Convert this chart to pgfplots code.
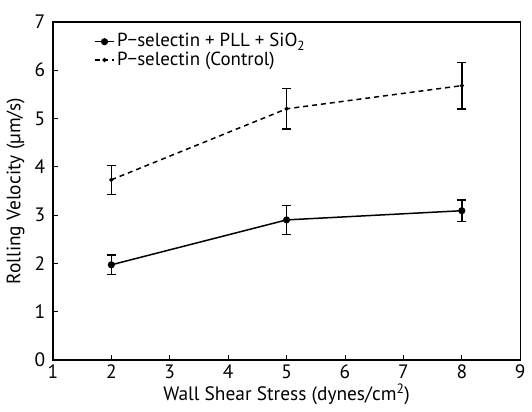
\documentclass[border=0pt]{standalone}
\usepackage{pgfplots}
\pgfplotsset{compat=1.18}
\usepackage{fontspec}
\setmainfont{PT Sans}
\begin{document}
\fontsize{19.5}{23}\selectfont
\begin{tikzpicture}
\begin{axis}[
  width=470pt, height=340pt, scale only axis,
  xmin=1, xmax=9, ymin=0, ymax=7,
  xtick={1,...,9}, ytick={0,...,7},
  tick align=inside, xtick pos=bottom, ytick pos=left,
  major tick length=5pt,
  tick style={line width=1pt, black},
  axis line style={line width=1.3pt},
  /pgf/number format/assume math mode=true,
  ticklabel style={font=\fontsize{19.5}{23}\selectfont},
  label style={font=\fontsize{19.5}{23}\selectfont},
  xticklabel style={yshift=2pt},
  yticklabel style={xshift=-1pt},
  xlabel={Wall Shear Stress (dynes/cm\textsuperscript{2})},
  ylabel={Rolling Velocity (µm/s)},
  xlabel style={yshift=8pt},
  ylabel style={yshift=-3pt},
  legend style={draw=none, fill=none, at={(0.085,0.975)}, anchor=north west,
    font=\fontsize{19}{21}\selectfont, row sep=-2pt, inner sep=1pt},
  legend cell align=left,
  legend image code/.code={\draw[mark repeat=2,mark phase=2,#1]
    plot coordinates {(0pt,0pt)(10pt,0pt)(20pt,0pt)};},
]
% P-selectin + PLL + SiO2
\addplot[black, line width=1.5pt, mark=*, mark size=2.8pt,
  error bars/.cd, y dir=both, y explicit,
  error bar style={line width=1.6pt, solid},
  error mark options={rotate=90, line width=1.6pt, mark size=4.5pt, solid}]
  coordinates {
    (2,1.97) +- (0,0.20)
    (5,2.90) +- (0,0.30)
    (8,3.09) +- (0,0.22)
  };
\addlegendentry{P\textminus selectin + PLL + SiO\textsubscript{2}}
% P-selectin control
\addplot[black, line width=1.5pt, dash pattern=on 5pt off 4pt,
  mark=*, mark size=1.3pt, mark options={solid},
  error bars/.cd, y dir=both, y explicit,
  error bar style={line width=1.6pt, solid},
  error mark options={rotate=90, line width=1.6pt, mark size=4.5pt, solid}]
  coordinates {
    (2,3.73) +- (0,0.30)
    (5,5.20) +- (0,0.42)
    (8,5.68) +- (0,0.48)
  };
\addlegendentry{P\textminus selectin (Control)}
\end{axis}
% white space above the frame
\path (current axis.north) ++(0,22pt);
\end{tikzpicture}
\end{document}
